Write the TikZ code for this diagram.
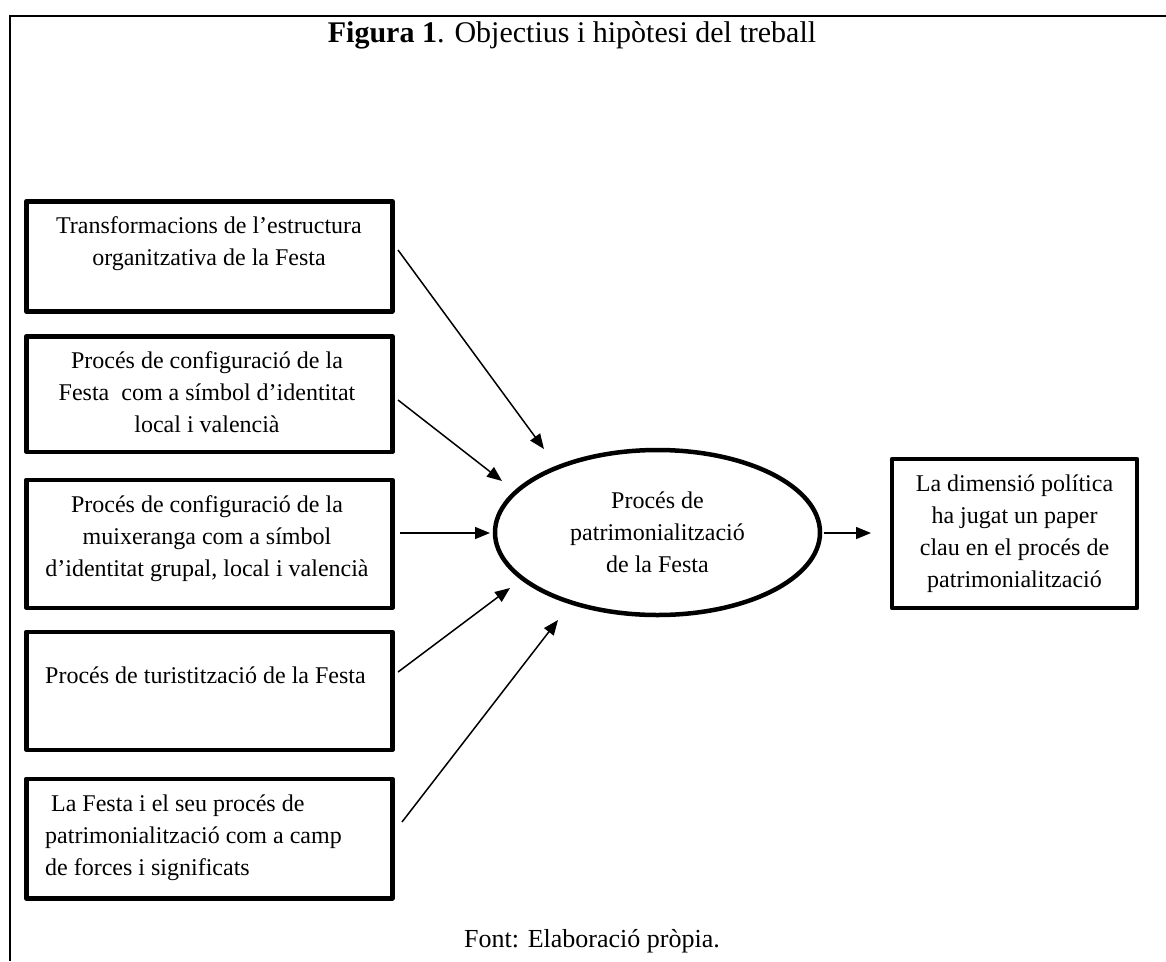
\documentclass[tikz,border=0pt]{standalone}
\usepackage{fontspec}
\setmainfont{Liberation Serif}
\usetikzlibrary{arrows.meta,shapes.geometric}
\begin{document}
\begin{tikzpicture}[x=1pt,y=-1pt,
  framebox/.style={draw,line width=4.5pt,line join=round,inner sep=0pt,anchor=north west},
  lbl/.style={inner sep=0pt,anchor=north,font=\fontsize{24}{32}\selectfont},
  conn/.style={line width=1.5pt,-{Triangle[length=15pt,width=12pt]}},
  bodyfont/.style={font=\fontsize{24}{32}\selectfont}
]
\useasboundingbox (0,0) rectangle (1166,961);
% outer frame (top and left only)
\draw[line width=2pt] (10,961) -- (10,16) -- (1166,16);

% title and source
\node[font=\fontsize{30}{35}\selectfont,anchor=base,inner sep=0pt] (title) at (572,42)
  {\textbf{Figura 1}. Objectius i hipòtesi del treball};
\node[font=\fontsize{26}{31}\selectfont,anchor=base,inner sep=0pt] (source) at (592,947)
  {Font: Elaboració pròpia.};

% left boxes
\node[framebox,minimum width=366pt,minimum height=110pt] (b1) at (24,199) {};
\node[framebox,minimum width=366pt,minimum height=115.5pt] (b2) at (24,334) {};
\node[framebox,minimum width=366pt,minimum height=128pt] (b3) at (24,477.5) {};
\node[framebox,minimum width=366pt,minimum height=118pt] (b4) at (24,629.5) {};
\node[framebox,minimum width=366pt,minimum height=119.5pt] (b5) at (24,776.5) {};

\node[lbl,align=center] (t1) at (209,210.6)
  {\strut Transformacions de l’estructura\\organitzativa de la Festa};
\node[lbl,align=center] (t2) at (207,345.6)
  {\strut Procés de configuració de la\\Festa\ \ com a símbol d’identitat\\local i valencià};
\node[lbl,align=center] (t3) at (207,489.6)
  {\strut Procés de configuració de la\\muixeranga com a símbol\\d’identitat grupal, local i valencià};
\node[lbl,anchor=north west] (t4) at (45,660.6)
  {\strut Procés de turistització de la Festa};
\node[lbl,align=left,anchor=north west] (t5) at (45,788.6)
  {\strut\hspace{6pt}La Festa i el seu procés de\\patrimonialització com a camp\\de forces i significats};

% central ellipse
\node[draw,ellipse,line width=4.5pt,inner sep=0pt,minimum width=325pt,minimum height=165pt,
  align=center,bodyfont] (el) at (657.5,532.5)
  {Procés de\\patrimonialització\\de la Festa};

% right box
\node[draw,line width=4.5pt,line join=round,inner sep=0pt,minimum width=245pt,minimum height=149pt,
  align=center,bodyfont] (r) at (1014.5,533.5)
  {La dimensió política\\ha jugat un paper\\clau en el procés de\\patrimonialització};

% connector end points
\coordinate (s1) at (398,250);   \coordinate (e1) at (544,449);
\coordinate (s2) at (398,400);   \coordinate (e2) at (502,481);
\coordinate (s3) at (400,533);   \coordinate (e3) at (490,533);
\coordinate (s4) at (398,672);   \coordinate (e4) at (510,588);
\coordinate (s5) at (402,822);   \coordinate (e5) at (558,620);
\coordinate (s6) at (824,533);   \coordinate (e6) at (871,533);

\draw[conn] (s1) -- (e1);
\draw[conn] (s2) -- (e2);
\draw[conn] (s3) -- (e3);
\draw[conn] (s4) -- (e4);
\draw[conn] (s5) -- (e5);
\draw[conn] (s6) -- (e6);
\end{tikzpicture}
\end{document}
